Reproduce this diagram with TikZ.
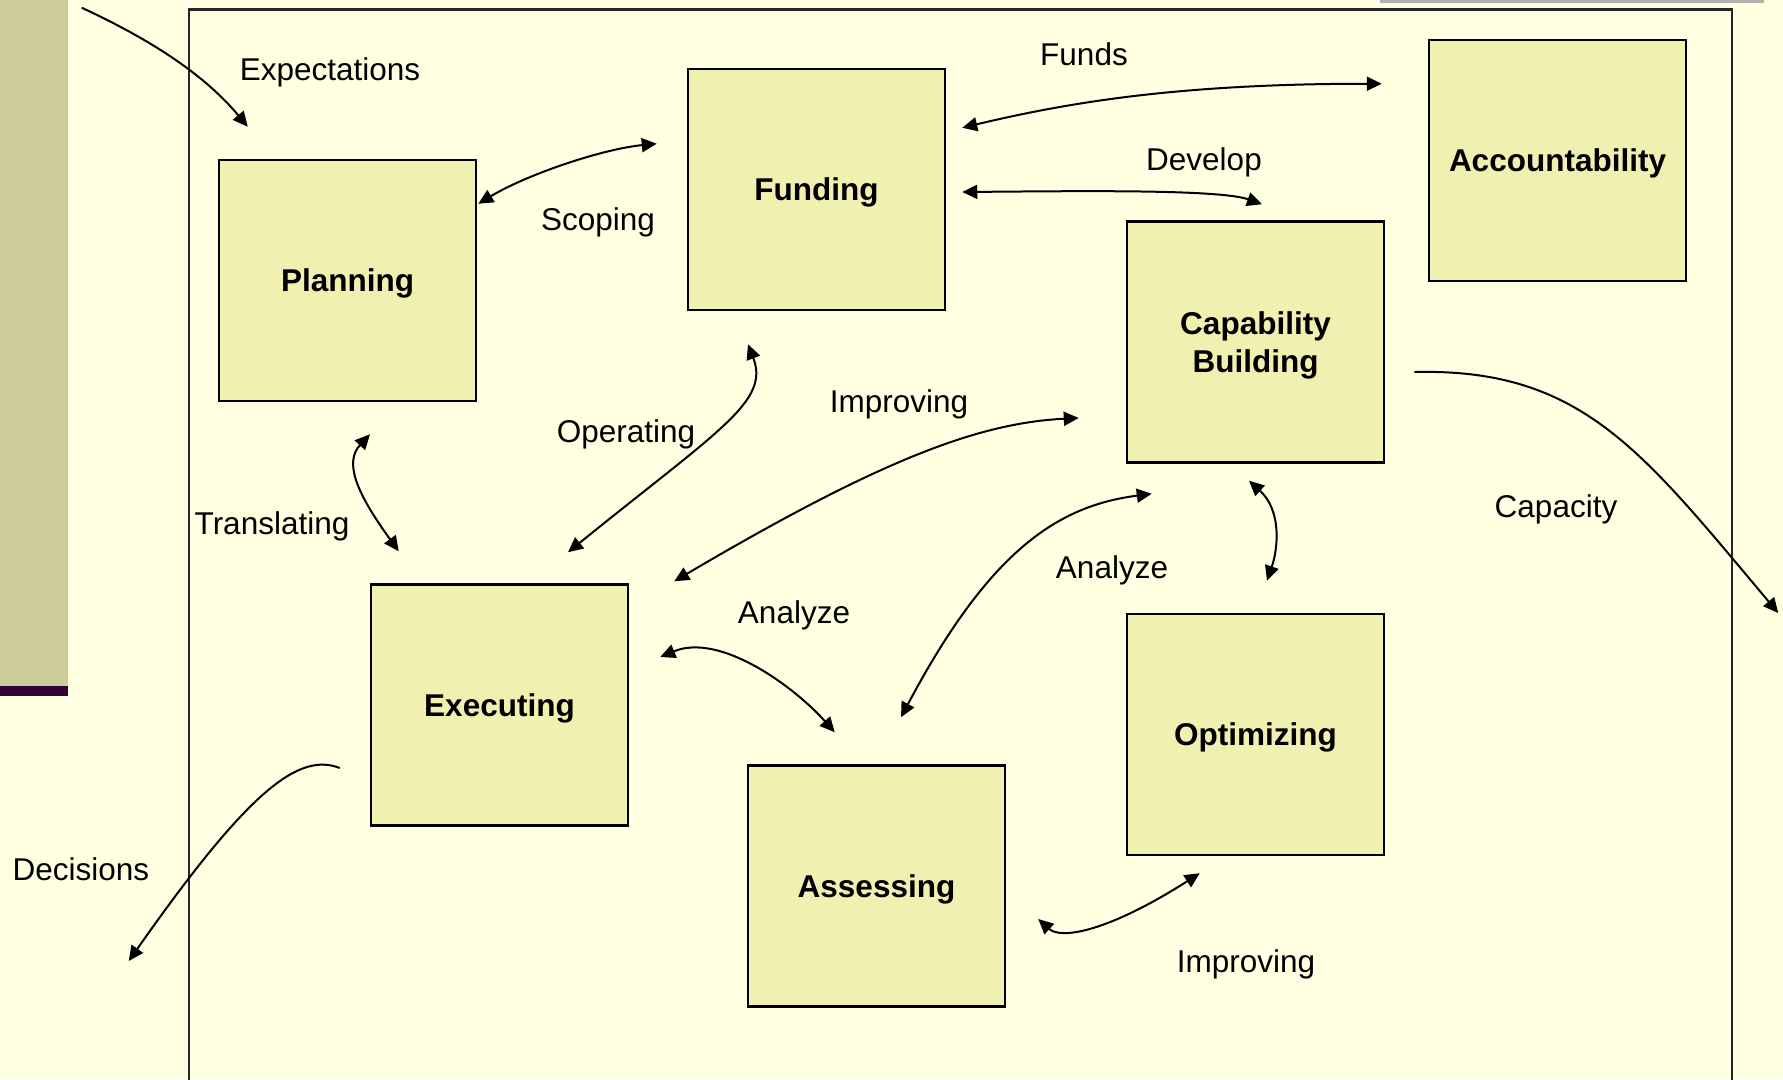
\documentclass[tikz,border=0pt]{standalone}
\usepackage{fontspec}
\setmainfont{Liberation Sans}
\usetikzlibrary{arrows.meta}

\definecolor{pagebg}{HTML}{FFFFE1}
\definecolor{boxfill}{HTML}{F0F0B0}
\definecolor{sidebar}{HTML}{CCCC99}
\definecolor{sideline}{HTML}{330033}
\definecolor{topbar}{HTML}{B2B2B2}

\tikzset{
	stage/.style={draw=black, fill=boxfill, line width=2.5pt, minimum width=257pt,
		minimum height=241pt, inner sep=0pt, align=center, text depth=0pt,
		font=\fontsize{31.5}{37.5}\selectfont\bfseries},
	flow/.style={font=\fontsize{31.5}{37.5}\selectfont, inner sep=0pt, anchor=base}
}

\begin{document}
\begin{tikzpicture}[x=1pt,y=-1pt,>={Triangle[length=15pt,width=14pt]},line width=2pt]
	\useasboundingbox (0,0) rectangle (1783,1079);
	\fill[pagebg] (0,0) rectangle (1783,1079);
	\fill[sidebar] (0,0) rectangle (68,686);
	\fill[sideline] (0,686) rectangle (68,696);
	\fill[topbar] (1380,0) rectangle (1764,3);
	\draw[line width=2.5pt, black!85] (189,9.5) rectangle (1732,1100);

	\node[stage] (plan) at (347.5,280.5) {Planning};
	\node[stage] (fund) at (816.5,189.5) {Funding};
	\node[stage] (acc)  at (1557.5,160.5) {Accountability};
	\node[stage] (cap)  at (1255.5,342) {Capability\\Building};
	\node[stage] (exe)  at (499.5,705) {Executing};
	\node[stage] (ass)  at (876.5,886) {Assessing};
	\node[stage] (opt)  at (1255.5,734.5) {Optimizing};

	% arrow ends, kept next to the boxes
	\coordinate (expA) at ([shift={(-136,-151)}]plan.north west);
	\coordinate (expB) at ([shift={(30,-32)}]plan.north west);
	\coordinate (scpA) at ([shift={(1,45)}]plan.north east);
	\coordinate (scpB) at ([shift={(-30,76)}]fund.north west);
	\coordinate (fndA) at ([shift={(16,60)}]fund.north east);
	\coordinate (fndB) at ([shift={(-46,45)}]acc.north west);
	\coordinate (devA) at ([shift={(16,2.5)}]fund.east);
	\coordinate (devB) at ([shift={(6.5,-16)}]cap.north);
	\coordinate (trnA) at ([shift={(22.5,32)}]plan.south);
	\coordinate (trnB) at ([shift={(29,-32)}]exe.north west);
	\coordinate (opA)  at ([shift={(-68.5,33)}]fund.south);
	\coordinate (opB)  at ([shift={(68.5,-31)}]exe.north);
	\coordinate (impA) at ([shift={(-47,76)}]cap.west);
	\coordinate (impB) at ([shift={(45,-2)}]exe.north east);
	\coordinate (anlA) at ([shift={(31,-48)}]exe.east);
	\coordinate (anlB) at ([shift={(88,-32)}]ass.north west);
	\coordinate (anrA) at ([shift={(26,30)}]cap.south west);
	\coordinate (anrB) at ([shift={(24.5,-47)}]ass.north);
	\coordinate (optA) at ([shift={(-6.5,17)}]cap.south);
	\coordinate (optB) at ([shift={(11.5,-32)}]opt.north);
	\coordinate (imlA) at ([shift={(32,33)}]ass.east);
	\coordinate (imlB) at ([shift={(74,17)}]opt.south west);
	\coordinate (capA) at ([shift={(29,30)}]cap.east);
	\coordinate (capB) at ([shift={(393,271)}]cap.east);
	\coordinate (decA) at ([shift={(-30,63)}]exe.west);
	\coordinate (decB) at ([shift={(-241,256)}]exe.west);

	\draw[->]  (expA) .. controls +(67,31) and +(-44,-53) .. (expB);
	\draw[<->] (scpA) .. controls +(50,-30) and +(-53,5) .. (scpB);
	\draw[<->] (fndA) .. controls +(109,-26) and +(-200,0) .. (fndB);
	\draw[<->] (devA) .. controls +(119,-1) and +(-42,-15) .. (devB);
	\draw[<->] (trnA) .. controls +(-25,27) and +(-45,-62) .. (trnB);
	\draw[<->] (opA) .. controls +(22,57) and +(152,-123) .. (opB);
	\draw[<->] (impA) .. controls +(-100,5) and +(207,-122) .. (impB);
	\draw[<->] (anlA) .. controls +(60,-25) and +(-40,-45) .. (anlB);
	\draw[<->] (anrA) .. controls +(-93,12) and +(89,-168) .. (anrB);
	\draw[<->] (optA) .. controls +(33,30) and +(11,-32) .. (optB);
	\draw[<->] (imlA) .. controls +(23,21) and +(-91,58) .. (imlB);
	\draw[->]  (capA) .. controls +(167,-4) and +(-137,-163) .. (capB);
	\draw[->]  (decA) .. controls +(-41,-16) and +(120,-171) .. (decB);

	\node[flow] (lexp) at (330,80) {Expectations};
	\node[flow] (lscp) at (598,230) {Scoping};
	\node[flow] (lfnd) at (1084,65) {Funds};
	\node[flow] (ldev) at (1204,170) {Develop};
	\node[flow] (lop)  at (626,442) {Operating};
	\node[flow] (ltrn) at (272,534) {Translating};
	\node[flow] (limp) at (899,412) {Improving};
	\node[flow] (lanl) at (794,623) {Analyze};
	\node[flow] (lanr) at (1112,578) {Analyze};
	\node[flow] (lcap) at (1556,517) {Capacity};
	\node[flow] (ldec) at (81,880) {Decisions};
	\node[flow] (liml) at (1246,972) {Improving};
\end{tikzpicture}
\end{document}
